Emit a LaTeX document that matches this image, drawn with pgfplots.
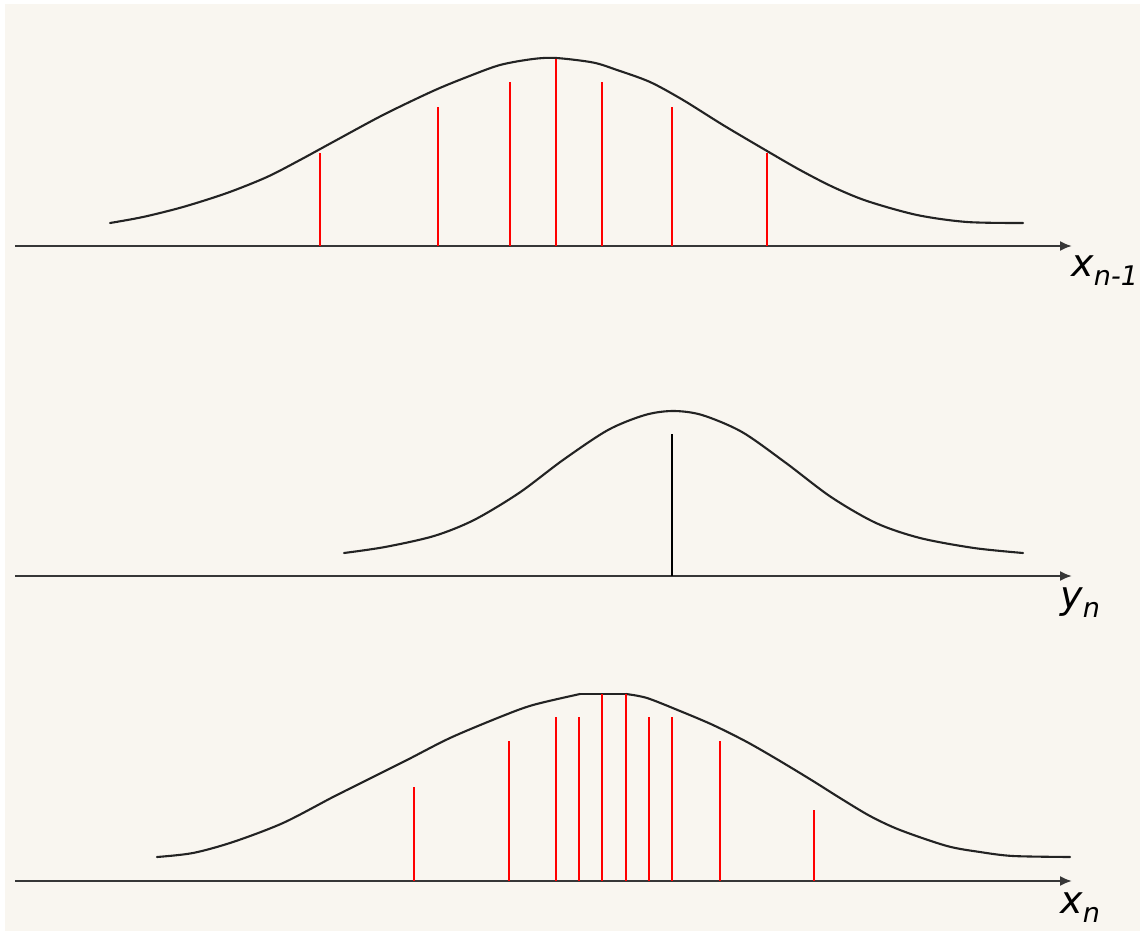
\documentclass[border=0pt]{standalone}
\usepackage{pgfplots}
\pgfplotsset{compat=1.18}
\usetikzlibrary{arrows.meta}
\usepackage{fontspec}
\setmainfont{DejaVu Sans}
\definecolor{bgc}{RGB}{249,246,240}
\definecolor{axc}{RGB}{55,55,55}
\definecolor{cvc}{RGB}{35,35,35}
\newcommand{\lab}[2]{{\fontsize{19}{20}\selectfont\itshape #1}\raisebox{-4.5pt}{\fontsize{13.5}{14}\selectfont\itshape #2}}
\pgfplotsset{
  panel/.style={hide axis, x=0.5pt, y=0.5pt, xmin=0, xmax=1140, clip=false, anchor=north west},
  curve/.style={cvc, line width=1.05pt, line join=round, line cap=round, mark=none, smooth, tension=0.5},
  stem/.style={red, line width=1pt, ycomb, mark=none},
  base/.style={axc, line width=1pt, mark=none, -{Latex[length=6pt,width=5pt]}}
}
\begin{document}
\begin{tikzpicture}
\fill[white] (0,0) rectangle (570pt,-465.5pt);
\fill[bgc] (2.5pt,-2pt) rectangle (570pt,-465.5pt);

% Panel 1: x_{n-1}
\begin{axis}[panel, at={(0,0)}, ymin=-84, ymax=246]
\addplot[base] coordinates {(15,0) (1072,0)};
\addplot[curve] coordinates {
(110,23) (143,29) (183,39) (227,53) (267,69) (300,86) (333,104) (383,131)
(433,155) (467,169) (500,181) (533,187) (556,188) (593,183.5) (617,176) (650,164)
(683,146) (723,121) (767,95) (800,76) (833,59) (867,45) (917,31) (967,24) (1023,23)};
\addplot[stem] coordinates {(320,93) (438,139) (510,164) (556,187) (602,164) (672,139) (767,93)};
\node[anchor=base west, inner sep=0] at (axis cs:1071,-30) {\lab{x}{n-1}};
\end{axis}

% Panel 2: y_n
\begin{axis}[panel, at={(0,-165pt)}, ymin=-64, ymax=246]
\addplot[base] coordinates {(15,0) (1072,0)};
\addplot[curve] coordinates {
(344,23) (385,29) (434,40) (474,56) (519,83) (563,116) (608,146) (645,161)
(673,165) (702,161) (742,144) (786,113) (831,79) (876,53) (920,38) (974,28) (1023,23)};
\addplot[black, line width=0.8pt, ycomb, mark=none] coordinates {(672,142)};
\node[anchor=base west, inner sep=0] at (axis cs:1060,-32) {\lab{y}{n}};
\end{axis}

% Panel 3: x_n
\begin{axis}[panel, at={(0,-320pt)}, ymin=-50, ymax=241]
\addplot[base] coordinates {(15,0) (1072,0)};
\addplot[curve] coordinates {
(157,24) (193,28) (233,39) (283,58) (333,84) (367,101) (407,121) (450,143)
(500,164) (533,176) (580,187)};
\addplot[cvc, line width=1.05pt, mark=none] coordinates {(580,187) (626,187)};
\addplot[curve] coordinates {
(626,187) (647,183) (680,170) (713,156)
(747,139) (780,120) (813,100) (840,83) (870,65) (900,51) (947,35)
(980,29) (1013,25) (1070,24)};
\addplot[stem] coordinates {(414,94) (509,140) (556,164) (579,164) (602,187) (626,187) (649,164) (672,164) (720,140) (814,71)};
\node[anchor=base west, inner sep=0] at (axis cs:1060,-32) {\lab{x}{n}};
\end{axis}

\pgfresetboundingbox
\useasboundingbox (0,0) rectangle (570pt,-465.5pt);
\end{tikzpicture}
\end{document}
